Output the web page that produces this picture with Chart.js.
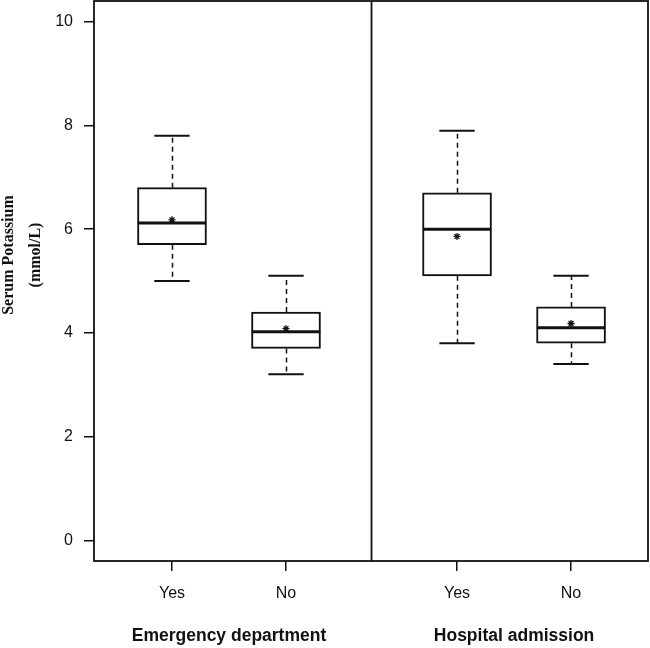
<!DOCTYPE html>
<html><head><meta charset="utf-8">
<script src="https://cdn.jsdelivr.net/npm/chart.js@4"></script>
<style>html,body{margin:0;padding:0;background:#fff}#wrap{width:650px;height:648px}</style>
</head><body><div id="wrap"><canvas id="c" width="650" height="648"></canvas></div>
<script>
const categories = ['Yes', 'No', 'Yes', 'No'];
const positions = [1, 2, 3.5, 4.5];
const groups = ['Emergency department', 'Hospital admission'];
const groupCenters = [1.5, 4];
const panelDividers = [2.75];
const whiskerLow = [5.0, 3.2, 3.8, 3.4];
const q1 = [5.7, 3.7, 5.1, 3.8];
const medians = [6.12, 4.02, 6.0, 4.1];
const q3 = [6.8, 4.4, 6.7, 4.5];
const whiskerHigh = [7.8, 5.1, 7.9, 5.1];
const means = [6.18, 4.08, 5.86, 4.18];
const yTicks = [0, 2, 4, 6, 8, 10];
const yTitle = ['Serum Potassium', '(mmol/L)'];

const BOX_HALF = 0.3;
const CAP_HALF = 0.155;
const INK = '#111';

const boxExtras = {
  id: 'boxExtras',
  afterDatasetDraw(chart, args) {
    if (args.index !== 0) return;
    const {ctx, scales: {x, y}} = chart;
    ctx.save();
    ctx.strokeStyle = INK;
    const seg = (x1, y1, x2, y2) => { ctx.beginPath(); ctx.moveTo(x1, y1); ctx.lineTo(x2, y2); ctx.stroke(); };
    positions.forEach((p, i) => {
      const px = Math.round(x.getPixelForValue(p)) + 0.5;
      const cl = x.getPixelForValue(p - CAP_HALF), cr = x.getPixelForValue(p + CAP_HALF);
      const bl = x.getPixelForValue(p - BOX_HALF), br = x.getPixelForValue(p + BOX_HALF);
      ctx.lineWidth = 1.5;
      ctx.setLineDash([5, 4]);
      seg(px, y.getPixelForValue(q3[i]), px, y.getPixelForValue(whiskerHigh[i]));
      seg(px, y.getPixelForValue(q1[i]), px, y.getPixelForValue(whiskerLow[i]));
      ctx.setLineDash([]);
      ctx.lineWidth = 2;
      seg(cl, y.getPixelForValue(whiskerHigh[i]), cr, y.getPixelForValue(whiskerHigh[i]));
      seg(cl, y.getPixelForValue(whiskerLow[i]), cr, y.getPixelForValue(whiskerLow[i]));
      ctx.lineWidth = 3;
      seg(bl, y.getPixelForValue(medians[i]), br, y.getPixelForValue(medians[i]));
    });
    ctx.restore();
  },
  afterDraw(chart) {
    const {ctx, scales: {x, y}, chartArea: a} = chart;
    ctx.save();
    ctx.strokeStyle = INK;
    ctx.lineWidth = 1.8;
    ctx.strokeRect(a.left, a.top, a.right - a.left, a.bottom - a.top);
    panelDividers.forEach(d => {
      const px = x.getPixelForValue(d);
      ctx.beginPath(); ctx.moveTo(px, a.top); ctx.lineTo(px, a.bottom); ctx.stroke();
    });
    ctx.fillStyle = INK;
    ctx.textAlign = 'center';
    ctx.textBaseline = 'middle';
    ctx.font = 'bold 17.5px "Liberation Sans", Arial, sans-serif';
    groups.forEach((g, i) => ctx.fillText(g, x.getPixelForValue(groupCenters[i]), 636));
    ctx.font = 'bold 16px "Liberation Serif", "Times New Roman", serif';
    const cy = 255;
    ctx.translate(0, cy);
    ctx.rotate(-Math.PI / 2);
    ctx.fillText(yTitle[0], 0, 9);
    ctx.fillText(yTitle[1], 0, 36);
    ctx.restore();
  }
};

new Chart(document.getElementById('c'), {
  type: 'bar',
  data: {
    datasets: [
      {
        type: 'bar',
        order: 2,
        data: positions.map((p, i) => ({x: p, y: [q1[i], q3[i]]})),
        backgroundColor: '#fff',
        borderColor: INK,
        borderWidth: 2,
        borderSkipped: false,
        barThickness: 69,
        grouped: false
      },
      {
        type: 'scatter',
        order: 1,
        data: positions.map((p, i) => ({x: p, y: means[i]})),
        pointStyle: 'star',
        pointRadius: 3.5,
        borderColor: INK,
        borderWidth: 1.3,
        backgroundColor: INK,
        showLine: false
      }
    ]
  },
  options: {
    responsive: false,
    animation: false,
    devicePixelRatio: 1,
    layout: {autoPadding: false, padding: {top: 1, right: 2, left: 0, bottom: 0}},
    plugins: {legend: {display: false}, tooltip: {enabled: false}},
    scales: {
      x: {
        type: 'linear',
        offset: false,
        min: 0.316,
        max: 5.175,
        afterBuildTicks: s => { s.ticks = positions.map(v => ({value: v})); },
        afterFit: s => { s.height = 87; s.paddingLeft = 0; s.paddingRight = 0; },
        grid: {display: true, offset: false, drawOnChartArea: false, drawTicks: true, tickLength: 10, color: INK, lineWidth: 1.5},
        border: {display: false},
        ticks: {
          callback: (v, i) => categories[i],
          color: INK,
          font: {family: '"Liberation Sans", Arial, sans-serif', size: 16},
          padding: 13,
          maxRotation: 0,
          autoSkip: false
        }
      },
      y: {
        type: 'linear',
        min: -0.4,
        max: 10.4,
        afterBuildTicks: s => { s.ticks = yTicks.map(v => ({value: v})); },
        afterFit: s => { s.width = 94; s.paddingTop = 0; s.paddingBottom = 0; },
        grid: {display: true, drawOnChartArea: false, drawTicks: true, tickLength: 10, color: INK, lineWidth: 1.5},
        border: {display: false},
        ticks: {
          color: INK,
          font: {family: '"Liberation Sans", Arial, sans-serif', size: 16},
          padding: 11
        }
      }
    }
  },
  plugins: [boxExtras]
});
</script>
</body></html>
